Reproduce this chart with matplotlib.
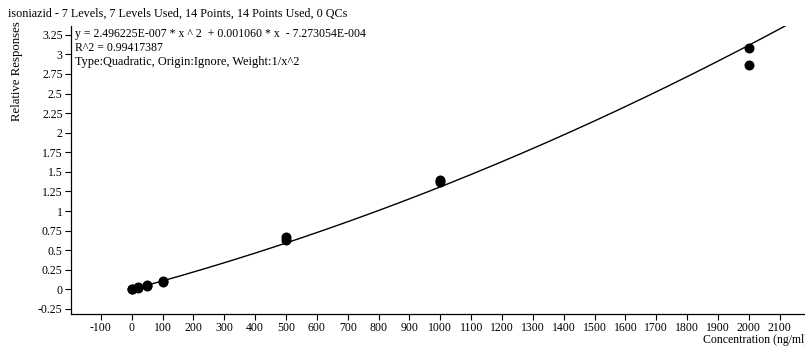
import numpy as np
import matplotlib
matplotlib.use("Agg")
import matplotlib.pyplot as plt

plt.rcParams['font.family'] = ['Liberation Serif', 'DejaVu Serif']
plt.rcParams['axes.unicode_minus'] = False

# calibration levels (ng/ml), two injections per level
levels = [1, 20, 50, 100, 500, 1000, 2000]
resp_a = [0.005, 0.024, 0.052, 0.104, 0.665, 1.39, 3.08]
resp_b = [0.000, 0.018, 0.047, 0.098, 0.635, 1.375, 2.86]

# quadratic fit coefficients
coef_a = 2.496225E-007
coef_b = 0.001060
coef_c = -7.273054E-004
r_squared = 0.99417387

x_ticks = list(range(-100, 2101, 100))
y_ticks = [-0.25, 0, 0.25, 0.5, 0.75, 1, 1.25, 1.5, 1.75, 2, 2.25, 2.5, 2.75, 3, 3.25]

W, H = 805, 349
fig = plt.figure(figsize=(W / 100, H / 100), dpi=100)
ax = fig.add_axes([71 / W, 35 / H, 755 / W, 288 / H])

xs = np.array(levels * 2, dtype=float)
ys = np.array(resp_a + resp_b)
ax.scatter(xs, ys, s=52, color='black', zorder=3, linewidths=0)

cx = np.linspace(min(levels), 2250, 400)
cy = coef_a * cx ** 2 + coef_b * cx + coef_c
ax.plot(cx, cy, color='black', lw=1.0, zorder=2)

ax.set_xlim(-197, 2250)
ax.set_ylim(-0.315, 3.363)
ax.set_xticks(x_ticks)
ax.set_yticks(y_ticks)
ax.set_yticklabels([f"{v:g}" for v in y_ticks])
ax.tick_params(direction='out', length=4, width=0.8, labelsize=8.5, pad=2)
for s in ['top', 'right']:
    ax.spines[s].set_visible(False)
for s in ['left', 'bottom']:
    ax.spines[s].set_linewidth(0.9)

fs = 8.5
eq = f"y = {coef_a:.6E} * x ^ 2  + {coef_b:.6f} * x  - {abs(coef_c):.6E}".replace("E-0", "E-00")
ax.text(75 / W, 1 - 34 / H, eq, transform=fig.transFigure, fontsize=fs, va='center', ha='left')
ax.text(75 / W, 1 - 48 / H, f"R^2 = {r_squared:.8f}", transform=fig.transFigure,
        fontsize=fs, va='center', ha='left')
ax.text(75 / W, 1 - 62 / H, "Type:Quadratic, Origin:Ignore, Weight:1/x^2",
        transform=fig.transFigure, fontsize=8.9, va='center', ha='left')

fig.text(8 / W, 1 - 14 / H, "isoniazid - 7 Levels, 7 Levels Used, 14 Points, 14 Points Used, 0 QCs",
         fontsize=8.7, va='center', ha='left')
fig.text(17 / W, 1 - 21 / H, "Relative Responses", rotation=90, fontsize=9.2, va='top', ha='center')
fig.text(703 / W, 1 - 340 / H, "Concentration (ng/ml)", fontsize=fs, va='center', ha='left')

fig.savefig("out.png", dpi=100)
